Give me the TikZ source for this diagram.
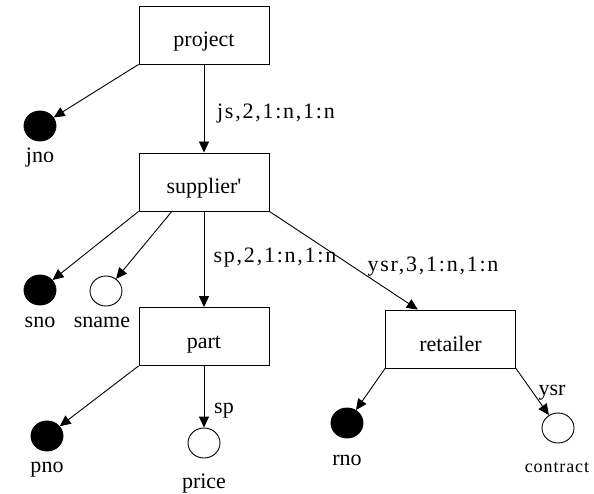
\documentclass[tikz,border=0pt]{standalone}
\usepackage{fontspec}
\setmainfont{Liberation Serif}
\usetikzlibrary{arrows.meta,shapes.geometric,calc}
\begin{document}
\begin{tikzpicture}[x=1pt,y=-1pt,
  ent/.style={draw,line width=0.9pt,minimum width=130pt,minimum height=58pt,inner sep=0pt,text height=24pt,text depth=0pt,font=\fontsize{22}{24}\selectfont},
  keyattr/.style={ellipse,draw,fill=black,line width=0.9pt,minimum width=32pt,minimum height=30pt,inner sep=0pt},
  attr/.style={ellipse,draw,fill=white,line width=0.9pt,minimum width=32pt,minimum height=30pt,inner sep=0pt},
  lbl/.style={inner sep=0pt,anchor=base,font=\fontsize{22}{24}\selectfont},
  elbl/.style={inner sep=0pt,anchor=base,font=\fontsize{22}{24}\selectfont\addfontfeature{LetterSpace=8}},
  conn/.style={line width=0.9pt,-{Triangle[length=11pt,width=10pt]}}]
\useasboundingbox (0,0) rectangle (594,494);
\node[ent] (project) at (204,35) {project};
\node[ent] (supplier) at (204,182) {supplier\textquotesingle};
\node[ent] (part) at (204,336.5) {part};
\node[ent] (retailer) at (450.5,339) {retailer};
\node[keyattr] (jno) at (40,126) {};
\node[keyattr] (sno) at (40,290) {};
\node[attr] (sname) at (106,291) {};
\node[keyattr] (pno) at (47,436) {};
\node[attr] (price) at (204,443) {};
\node[keyattr] (rno) at (347,423) {};
\node[attr] (contract) at (558,428) {};
\node[lbl] (ljno) at (40,163) {jno};
\node[lbl] (lsno) at (40,327) {sno};
\node[lbl] (lsname) at (102,327) {sname};
\node[lbl] (lpno) at (47,472) {pno};
\node[lbl] (lprice) at (204,488) {price};
\node[lbl] (lrno) at (347,465) {rno};
\node[lbl,font=\fontsize{18}{20}\selectfont\addfontfeature{LetterSpace=5}] (lcontract) at (557,472) {contract};
\draw[conn] (project.south west) -- (jno);
\draw[conn] (project.south) -- (supplier.north);
\draw[conn] (supplier.south west) -- (sno);
\draw[conn] ($(supplier.south west)!0.254!(supplier.south east)$) -- (sname);
\draw[conn] (supplier.south) -- (part.north);
\draw[conn] (supplier.south east) -- ($(retailer.north west)!0.25!(retailer.north east)$);
\draw[conn] (part.south west) -- (pno);
\draw[conn] (part.south) -- (price);
\draw[conn] (retailer.south west) -- (rno);
\draw[conn] (retailer.south east) -- (contract);
\node[elbl] (ljs) at (276,119) {js,2,1:n,1:n};
\node[elbl] (lsp) at (275,263) {sp,2,1:n,1:n};
\node[elbl] (lysr) at (433,272) {ysr,3,1:n,1:n};
\node[lbl] (lsp2) at (224,413) {sp};
\node[lbl] (lysr2) at (552,395) {ysr};
\end{tikzpicture}
\end{document}
